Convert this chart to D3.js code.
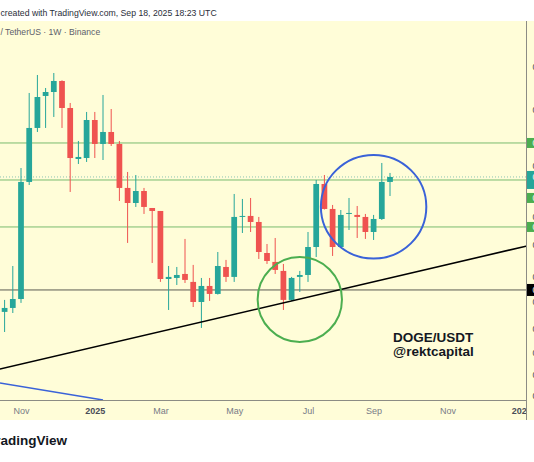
<!DOCTYPE html>
<html>
<head>
<meta charset="utf-8">
<script src="https://cdn.jsdelivr.net/npm/d3@7"></script>
<style>
  body { margin: 0; background: #fff; }
  svg { display: block; font-family: "Liberation Sans", Arial, sans-serif; }
</style>
</head>
<body>
<script>
// DOGE/USDT weekly candles (Binance)
var weeks = ["2024-10-21", "2024-10-28", "2024-11-04", "2024-11-11", "2024-11-18", "2024-11-25",
  "2024-12-02", "2024-12-09", "2024-12-16", "2024-12-23", "2024-12-30", "2025-01-06",
  "2025-01-13", "2025-01-20", "2025-01-27", "2025-02-03", "2025-02-10", "2025-02-17",
  "2025-02-24", "2025-03-03", "2025-03-10", "2025-03-17", "2025-03-24", "2025-03-31",
  "2025-04-07", "2025-04-14", "2025-04-21", "2025-04-28", "2025-05-05", "2025-05-12",
  "2025-05-19", "2025-05-26", "2025-06-02", "2025-06-09", "2025-06-16", "2025-06-23",
  "2025-06-30", "2025-07-07", "2025-07-14", "2025-07-21", "2025-07-28", "2025-08-04",
  "2025-08-11", "2025-08-18", "2025-08-25", "2025-09-01", "2025-09-08", "2025-09-15"]

var open = [0.1408, 0.1437, 0.1505, 0.2756, 0.3643, 0.4298, 0.4387, 0.4644, 0.4039, 0.3103,
  0.3119, 0.3796, 0.3354, 0.3568, 0.3354, 0.2672, 0.2472, 0.2630, 0.2409, 0.2372,
  0.1669, 0.1678, 0.1713, 0.1644, 0.1482, 0.1610, 0.1545, 0.1776, 0.1687, 0.2300,
  0.2312, 0.2241, 0.1909, 0.1823, 0.1740, 0.1498, 0.1687, 0.1704, 0.1969, 0.2727,
  0.2397, 0.1969, 0.2336, 0.2324, 0.2300, 0.2128, 0.2276, 0.2756]
var high = [0.1498, 0.1785, 0.2962, 0.4365, 0.4790, 0.4479, 0.4840, 0.4660, 0.4145, 0.3406,
  0.3957, 0.3957, 0.4320, 0.4018, 0.3406, 0.2902, 0.2857, 0.2672, 0.2409, 0.2372,
  0.1785, 0.1776, 0.2053, 0.1795, 0.1678, 0.1678, 0.1919, 0.1842, 0.2590, 0.2524,
  0.2537, 0.2300, 0.2000, 0.2063, 0.1804, 0.1687, 0.1740, 0.2128, 0.2784, 0.2857,
  0.2447, 0.2384, 0.2537, 0.2434, 0.2336, 0.2324, 0.3040, 0.2887]
var low = [0.1269, 0.1400, 0.1475, 0.2713, 0.3568, 0.3643, 0.3856, 0.3643, 0.2617, 0.3024,
  0.3056, 0.3119, 0.3087, 0.3319, 0.2498, 0.2011, 0.2422, 0.2336, 0.1813, 0.1644,
  0.1422, 0.1618, 0.1635, 0.1444, 0.1296, 0.1490, 0.1540, 0.1644, 0.1644, 0.2117,
  0.2128, 0.1851, 0.1804, 0.1713, 0.1422, 0.1490, 0.1561, 0.1644, 0.1870, 0.2390,
  0.1880, 0.1959, 0.2150, 0.2063, 0.2053, 0.2042, 0.2264, 0.2563]
var close = [0.1437, 0.1505, 0.2756, 0.3643, 0.4275, 0.4387, 0.4644, 0.4039, 0.3119, 0.3136,
  0.3796, 0.3354, 0.3568, 0.3354, 0.2672, 0.2472, 0.2630, 0.2422, 0.2372, 0.1669,
  0.1687, 0.1704, 0.1661, 0.1482, 0.1610, 0.1545, 0.1785, 0.1687, 0.2300, 0.2312,
  0.2241, 0.1919, 0.1832, 0.1749, 0.1498, 0.1678, 0.1704, 0.1969, 0.2727, 0.2397,
  0.1969, 0.2324, 0.2348, 0.2300, 0.2128, 0.2276, 0.2756, 0.2828]

// horizontal levels drawn on the chart
var greenLevels = [0.3371, 0.2784, 0.2184]
var supportLevel = 0.1577

// drawings: trendline, blue line, circled zones (box corners: dates + prices)
var trendDates = ["2024-10-17", "2026-01-10"]
var trendPrices = [0.1048, 0.1980]
var blueDates = ["2024-10-17", "2025-01-13"]
var bluePrices = [0.0975, 0.0893]
var greenZoneDates = ["2025-05-25", "2025-08-05"]
var greenZonePrices = [0.1870, 0.1205]
var blueZoneDates = ["2025-07-18", "2025-10-16"]
var blueZonePrices = [0.3168, 0.1855]

// axis ticks
var timeTicks = ["2024-11-04", "2025-01-06", "2025-03-03", "2025-05-05", "2025-07-07", "2025-09-01", "2025-11-03", "2026-01-05"]
var priceTicks = [0.4992, 0.3998, 0.2993, 0.2300, 0.1990, 0.1687, 0.1482, 0.1289, 0.1140, 0.1018, 0.0911]

/* SETUP */

var W = 534, H = 462
var paneTop = 21, paneBottom = 400, paneRight = 526.5, stripBottom = 420
var bg = "#fffdd8"
var up = "#26a69a", down = "#ef5350"

var svg = d3.select("body").append("svg")
  .attr("width", W)
  .attr("height", H)

svg.append("rect").attr("width", W).attr("height", H).attr("fill", "#fff")
svg.append("rect")
  .attr("x", 0).attr("y", paneTop)
  .attr("width", W).attr("height", stripBottom - paneTop)
  .attr("fill", bg)

var x = d3.scaleUtc()
  .domain([new Date("2024-11-04"), new Date("2026-01-05")])
  .range([21, 521.2])

var y = d3.scaleLog()
  .domain([0.0893, 0.6332])
  .range([paneBottom, paneTop])

svg.append("clipPath").attr("id", "pane")
  .append("rect")
  .attr("x", 0).attr("y", paneTop)
  .attr("width", paneRight).attr("height", paneBottom - paneTop)

var pane = svg.append("g").attr("clip-path", "url(#pane)")

/* HORIZONTAL LEVELS */

pane.selectAll("line.level")
  .data(greenLevels)
  .join("line")
  .attr("class", "level")
  .attr("x1", 0).attr("x2", paneRight)
  .attr("y1", d => y(d)).attr("y2", d => y(d))
  .attr("stroke", "#79bb6f")
  .attr("stroke-width", 1)

var lastClose = close[close.length - 1]

pane.append("line")
  .attr("x1", 0).attr("x2", paneRight)
  .attr("y1", y(lastClose)).attr("y2", y(lastClose))
  .attr("stroke", "#8cc4b4")
  .attr("stroke-width", 1)
  .attr("stroke-dasharray", "1,2")

pane.append("line")
  .attr("x1", 0).attr("x2", paneRight)
  .attr("y1", y(supportLevel)).attr("y2", y(supportLevel))
  .attr("stroke", "#5a5a52")
  .attr("stroke-width", 1)

/* CANDLES */

var candles = weeks.map(function(w, i) {
  return { date: new Date(w), o: open[i], h: high[i], l: low[i], c: close[i] }
})

var step = x(new Date(weeks[1])) - x(new Date(weeks[0]))
var bodyW = step * 0.7

pane.selectAll("line.wick")
  .data(candles)
  .join("line")
  .attr("class", "wick")
  .attr("x1", d => x(d.date)).attr("x2", d => x(d.date))
  .attr("y1", d => y(d.h)).attr("y2", d => y(d.l))
  .attr("stroke", d => d.c >= d.o ? up : down)
  .attr("stroke-width", 1)

pane.selectAll("rect.body")
  .data(candles)
  .join("rect")
  .attr("class", "body")
  .attr("x", d => x(d.date) - bodyW / 2)
  .attr("width", bodyW)
  .attr("y", d => y(Math.max(d.o, d.c)))
  .attr("height", d => Math.max(1, Math.abs(y(d.o) - y(d.c))))
  .attr("fill", d => d.c >= d.o ? up : down)

/* DRAWINGS */

function pts(dates, prices) {
  return dates.map((d, i) => [x(new Date(d)), y(prices[i])])
}
var line = d3.line()

pane.append("path")
  .attr("d", line(pts(trendDates, trendPrices)))
  .attr("stroke", "#000")
  .attr("stroke-width", 1.6)
  .attr("fill", "none")

pane.append("path")
  .attr("d", line(pts(blueDates, bluePrices)))
  .attr("stroke", "#3a62d8")
  .attr("stroke-width", 1.5)
  .attr("fill", "none")

function zone(dates, prices, color) {
  var x0 = x(new Date(dates[0])), x1 = x(new Date(dates[1]))
  var y0 = y(prices[0]), y1 = y(prices[1])
  pane.append("ellipse")
    .attr("cx", (x0 + x1) / 2).attr("cy", (y0 + y1) / 2)
    .attr("rx", (x1 - x0) / 2).attr("ry", (y1 - y0) / 2)
    .attr("fill", "none")
    .attr("stroke", color)
    .attr("stroke-width", 2)
}
zone(greenZoneDates, greenZonePrices, "#4cae50")
zone(blueZoneDates, blueZonePrices, "#3a62d8")

pane.append("text")
  .attr("x", 393).attr("y", 342)
  .attr("font-size", "13.5px").attr("font-weight", "bold")
  .attr("fill", "#131722")
  .text("DOGE/USDT")
pane.append("text")
  .attr("x", 393).attr("y", 356)
  .attr("font-size", "13.5px").attr("font-weight", "bold")
  .attr("fill", "#131722")
  .text("@rektcapital")

/* TIME AXIS */

var fmtMonth = d3.utcFormat("%b"), fmtYear = d3.utcFormat("%Y")
var xAxis = d3.axisBottom(x)
  .tickValues(timeTicks.map(d => new Date(d)))
  .tickSize(0)
  .tickPadding(7.5)
  .tickFormat(d => d.getUTCMonth() == 0 ? fmtYear(d) : fmtMonth(d))

var gx = svg.append("g")
  .attr("transform", "translate(0," + paneBottom + ")")
  .call(xAxis)
gx.select(".domain").remove()
gx.selectAll("text")
  .attr("font-family", "Liberation Sans, Arial, sans-serif")
  .attr("font-size", "9px")
  .attr("fill", d => d.getUTCMonth() == 0 ? "#4a4d57" : "#787b86")
  .attr("font-weight", d => d.getUTCMonth() == 0 ? "bold" : "normal")

svg.append("line")
  .attr("x1", 0).attr("x2", paneRight)
  .attr("y1", paneBottom + 0.5).attr("y2", paneBottom + 0.5)
  .attr("stroke", "#8c8c84")

/* PRICE AXIS (cut off at the right edge) */

svg.append("rect")
  .attr("x", paneRight).attr("y", paneTop)
  .attr("width", W - paneRight).attr("height", stripBottom - paneTop)
  .attr("fill", bg)

svg.append("line")
  .attr("x1", paneRight).attr("x2", paneRight)
  .attr("y1", paneTop).attr("y2", stripBottom)
  .attr("stroke", "#8c8c84")

var yAxis = d3.axisRight(y)
  .tickValues(priceTicks)
  .tickSize(0)
  .tickPadding(6)
  .tickFormat(d3.format(".4f"))

var gy = svg.append("g")
  .attr("transform", "translate(" + paneRight + ",0)")
  .call(yAxis)
gy.select(".domain").remove()
gy.selectAll("text")
  .attr("font-family", "Liberation Sans, Arial, sans-serif")
  .attr("font-size", "8.6px")
  .attr("fill", "#3c3f4a")

// price labels on the axis
var yCur = y(lastClose)
var curTop = yCur - 6, curBottom = yCur + 12

function tag(price, color, h) {
  var cy = y(price)
  if (cy + h / 2 > curTop && cy - h / 2 < curBottom) cy = curBottom + 4 + h / 2
  var g = svg.append("g")
  g.append("rect")
    .attr("x", paneRight + 0.5).attr("y", cy - h / 2)
    .attr("width", 40).attr("height", h)
    .attr("fill", color)
  g.append("text")
    .attr("x", paneRight + 6).attr("y", cy + 3)
    .attr("font-size", "8.6px").attr("fill", "#fff")
    .text(d3.format(".4f")(price))
}
greenLevels.forEach(p => tag(p, "#4cae50", 10))
tag(supportLevel, "#000", 12)

svg.append("rect")
  .attr("x", paneRight + 0.5).attr("y", curTop)
  .attr("width", 40).attr("height", curBottom - curTop)
  .attr("fill", up)
svg.append("text")
  .attr("x", paneRight + 6).attr("y", yCur + 3)
  .attr("font-size", "8.6px").attr("fill", "#fff")
  .text(d3.format(".4f")(lastClose))

/* HEADER / FOOTER TEXT */

svg.append("text")
  .attr("x", 0.5).attr("y", 15.5)
  .attr("font-size", "8.7px").attr("fill", "#2a2e39")
  .text("created with TradingView.com, Sep 18, 2025 18:23 UTC")

svg.append("text")
  .attr("x", 0.5).attr("y", 34.5)
  .attr("font-size", "8.6px").attr("fill", "#5d606b")
  .text("/ TetherUS · 1W · Binance")

svg.append("text")
  .attr("x", 67).attr("y", 445)
  .attr("text-anchor", "end")
  .attr("font-size", "13.5px").attr("font-weight", "bold")
  .attr("fill", "#131722")
  .text("TradingView")
</script>
</body>
</html>
